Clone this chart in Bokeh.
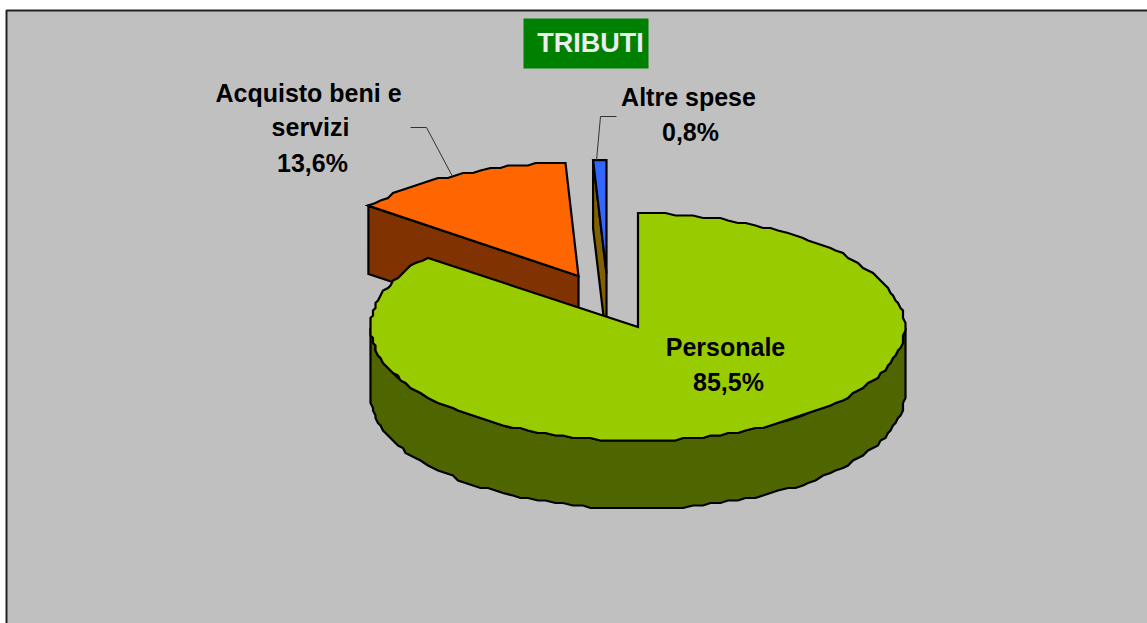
import numpy as np
from bokeh.embed import file_html
from bokeh.resources import INLINE
from bokeh.plotting import figure
from bokeh.models import Range1d
from bokeh.core.properties import value

# ---- data
title_text = "TRIBUTI"
categories = ["Personale", "Acquisto beni e servizi", "Altre spese"]
shares = [85.5, 13.6, 0.8]
top_colors = ["#99CC00", "#FF6600", "#3366FF"]
side_colors = ["#4F6600", "#803300", "#806000"]
label_lines = [["Personale"], ["Acquisto beni e", "servizi"], ["Altre spese"]]

# ---- layout of the drawing, in page pixels
CX, CY, RX, RY, DEPTH = 637.0, 326.5, 267.0, 113.5, 68.0
EXPLODE = [(0.0, 0.0), (-59.0, -51.0), (-31.0, -53.5)]
LABEL_POS = [[(725, 346), (728, 381)],
             [(308, 92), (310, 126), (312, 162)],
             [(688, 96), (690, 131)]]
LEADERS = [([410, 426, 452], [127, 127, 176]), ([616, 600, 596], [116, 116, 160])]
W, H = 1147, 623
JAG = 2.5

p = figure(width=W, height=H, x_range=Range1d(0, W), y_range=Range1d(H, 0),
           output_backend="svg", toolbar_location=None, min_border=0)
p.axis.visible = False
p.grid.visible = False
p.outline_line_color = None
p.background_fill_color = "white"
p.border_fill_color = "white"

# panel
p.quad(left=[6], right=[1170], top=[10], bottom=[700], fill_color="#C0C0C0",
       line_color="#222222", line_width=2)


def arc(t0, t1, ox, oy, dz=0.0):
    n = max(2, int(abs(t1 - t0) / 2.0) + 1)
    t = np.radians(np.linspace(t0, t1, n))
    x = CX + ox + RX * np.sin(t)
    y = CY + oy - RY * np.cos(t) + dz
    if abs(t1 - t0) > 10:
        x = np.round(x / JAG) * JAG
        y = np.round(y / JAG) * JAG
    return x, y


def draw(xs, ys, color):
    p.patch(list(xs), list(ys), fill_color=color, line_color="black", line_width=2.2,
            line_join="miter")


total = sum(shares)
edges = np.concatenate([[0], np.cumsum(shares) / total * 360.0])

# exploded back slices first, then the big front slice
for i in [1, 2]:
    a0, a1 = edges[i], edges[i + 1]
    ox, oy = EXPLODE[i]
    ax, ay = CX + ox, CY + oy
    sx = ax + RX * np.sin(np.radians(a0))
    sy = ay - RY * np.cos(np.radians(a0))
    draw([sx, sx, ax, ax], [sy, sy + DEPTH, ay + DEPTH, ay], side_colors[i])
    x, y = arc(a0, a1, ox, oy)
    draw(np.r_[ax, x], np.r_[ay, y], top_colors[i])

# big slice: front wall, then top
xu, yu = arc(90, 270, 0, 0)
xl, yl = arc(270, 90, 0, 0, DEPTH)
draw(np.r_[xu, xl], np.r_[yu, yl], side_colors[0])
x, y = arc(edges[0], edges[1], 0, 0)
draw(np.r_[x[0], x], np.r_[CY, y], top_colors[0])

# leader lines
for lx, ly in LEADERS:
    p.line(lx, ly, line_color="#333333", line_width=1)

# title box
p.quad(left=[523], right=[648], top=[18], bottom=[68], fill_color="#008000", line_color=None)
p.text([590], [42], text=[title_text], text_color="#EDEDED", text_font=value("Liberation Sans"),
       text_font_style="bold", text_font_size="27px", text_align="center", text_baseline="middle")

# labels
for lines, share, pos in zip(label_lines, shares, LABEL_POS):
    texts = lines + [f"{share:.1f}%".replace(".", ",")]
    p.text([q[0] for q in pos], [q[1] for q in pos], text=texts, text_color="black",
           text_font=value("Liberation Sans"), text_font_style="bold", text_font_size="25px",
           text_align="center", text_baseline="middle")

open("out.html", "w").write(file_html(p, INLINE))
